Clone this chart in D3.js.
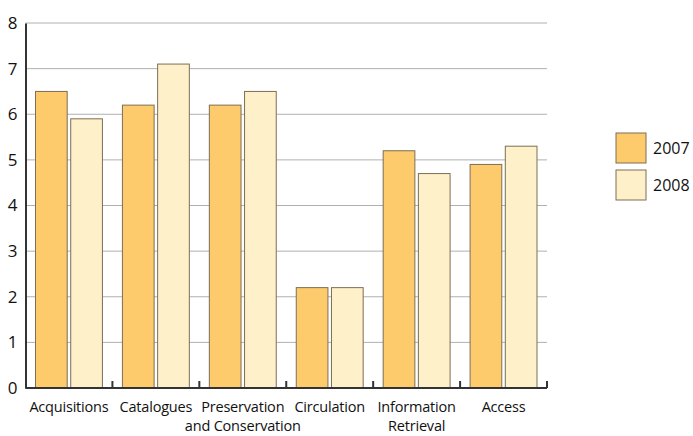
<!DOCTYPE html>
<html>
<head>
<meta charset="utf-8">
<script src="https://cdn.jsdelivr.net/npm/d3@7"></script>
<style>
  body { margin: 0; background: #fff; }
  svg { display: block; font-family: "Open Sans", "Noto Sans", sans-serif; }
</style>
</head>
<body>
<div id="chart"></div>
<script>
// grouped bars, two years per category
const categories = ['Acquisitions', 'Catalogues', 'Preservation\nand Conservation', 'Circulation', 'Information\nRetrieval', 'Access'];
const years = ['2007', '2008'];
const values2007 = [6.5, 6.2, 6.2, 2.2, 5.2, 4.9];
const values2008 = [5.9, 7.1, 6.5, 2.2, 4.7, 5.3];
const yTicks = [0, 1, 2, 3, 4, 5, 6, 7, 8];

const colors = { '2007': '#fdcb6b', '2008': '#fef0c9' };

const width = 693, height = 436;
const margin = { left: 25.5, right: 146, top: 23, bottom: 48 };

const svg = d3.select('#chart').append('svg')
  .attr('width', width).attr('height', height);

const x = d3.scaleBand()
  .domain(categories)
  .range([margin.left, width - margin.right])
  .paddingInner(0).paddingOuter(0);

const xInner = d3.scaleBand()
  .domain(years)
  .range([10, x.bandwidth() - 10])
  .paddingInner(0.1);

const y = d3.scaleLinear()
  .domain([0, 8])
  .range([height - margin.bottom, margin.top]);

// gridlines
svg.append('g')
  .selectAll('line')
  .data(yTicks.filter(d => d > 0))
  .join('line')
  .attr('x1', margin.left)
  .attr('x2', width - margin.right)
  .attr('y1', d => y(d))
  .attr('y2', d => y(d))
  .attr('stroke', '#b0b0b0')
  .attr('stroke-width', 1);

// bars
const rows = categories.map((c, i) => ({ cat: c, vals: [values2007[i], values2008[i]] }));
const group = svg.append('g').selectAll('g')
  .data(rows)
  .join('g')
  .attr('transform', d => `translate(${x(d.cat)},0)`);

group.selectAll('rect')
  .data(d => d.vals.map((v, j) => ({ year: years[j], v })))
  .join('rect')
  .attr('x', d => xInner(d.year))
  .attr('width', xInner.bandwidth())
  .attr('y', d => y(d.v))
  .attr('height', d => y(0) - y(d.v))
  .attr('fill', d => colors[d.year])
  .attr('stroke', '#7d6e55')
  .attr('stroke-width', 1);

// y axis
const yAxis = svg.append('g')
  .attr('transform', `translate(${margin.left},0)`)
  .call(d3.axisLeft(y).tickValues(yTicks).tickSize(0).tickPadding(8).tickFormat(d3.format('d')));
yAxis.select('.domain').attr('stroke', '#333').attr('stroke-width', 2);
yAxis.selectAll('text').attr('font-size', 17).attr('fill', '#111')
  .attr('font-family', '"Open Sans", sans-serif');

// x axis baseline and inner ticks at group boundaries
const xAxis = svg.append('g')
  .attr('transform', `translate(0,${y(0)})`);
xAxis.append('line')
  .attr('x1', margin.left).attr('x2', width - margin.right)
  .attr('stroke', '#333').attr('stroke-width', 2);
xAxis.selectAll('line.tick')
  .data(categories)
  .join('line')
  .attr('class', 'tick')
  .attr('x1', d => x(d) + x.bandwidth())
  .attr('x2', d => x(d) + x.bandwidth())
  .attr('y1', 0).attr('y2', -7)
  .attr('stroke', '#333').attr('stroke-width', 2);

// one text per label line so the lines never share a box
const labelLines = categories.flatMap(c => c.split('\n').map((t, i) => ({ cat: c, t, i })));
xAxis.selectAll('text')
  .data(labelLines)
  .join('text')
  .attr('x', d => x(d.cat) + x.bandwidth() / 2)
  .attr('y', d => 24 + d.i * 19)
  .attr('text-anchor', 'middle')
  .attr('font-size', 14.5)
  .attr('letter-spacing', -0.2)
  .attr('fill', '#111')
  .text(d => d.t);

// legend
const legend = svg.append('g').attr('transform', 'translate(616,133)');
const item = legend.selectAll('g')
  .data(years)
  .join('g')
  .attr('transform', (d, i) => `translate(0,${i * 37})`);
item.append('rect')
  .attr('width', 30).attr('height', 30)
  .attr('fill', d => colors[d])
  .attr('stroke', '#7d6e55').attr('stroke-width', 1);
item.append('text')
  .attr('x', 37).attr('y', 15).attr('dy', '0.35em')
  .attr('font-size', 16).attr('fill', '#111')
  .text(d => d);
</script>
</body>
</html>
